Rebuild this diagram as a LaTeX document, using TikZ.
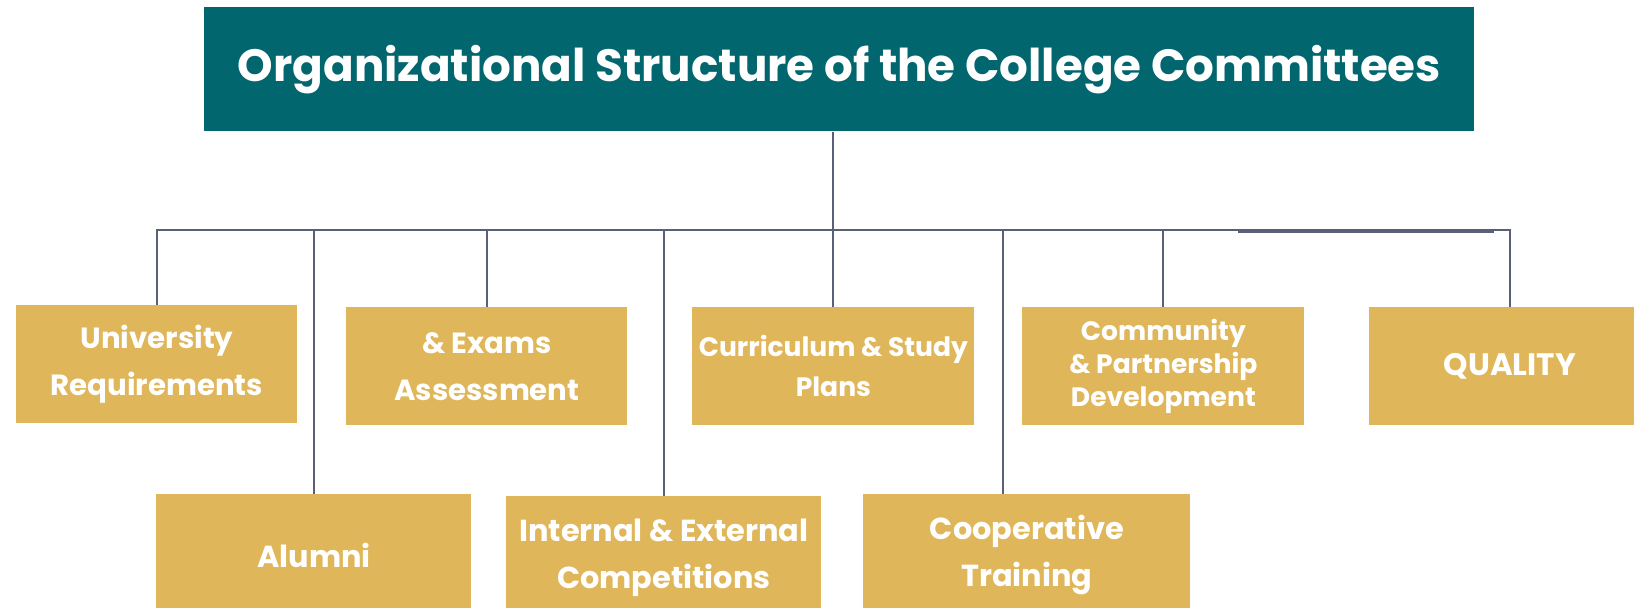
\documentclass[tikz,border=0pt]{standalone}
\usepackage{fontspec}
\setmainfont{Poppins}
\definecolor{teal}{HTML}{02666E}
\definecolor{gold}{HTML}{E0B65A}
\definecolor{linec}{HTML}{5B6079}
\tikzset{
  titlebox/.style={fill=teal, text=white, anchor=north west, inner sep=0pt, font=\bfseries\fontsize{22.6}{26}\selectfont, align=center},
  combox/.style={fill=gold, text=white, anchor=north west, inner sep=0pt, align=center, font=\bfseries\fontsize{14.6}{23.5}\selectfont},
  lowbox/.style={combox, font=\bfseries\fontsize{15.2}{23.5}\selectfont},
  conn/.style={draw=linec, line width=1pt}
}
\begin{document}
\begin{tikzpicture}[x=0.5pt,y=-0.5pt]
\useasboundingbox (0,0) rectangle (1634,608);
\node[titlebox, minimum width=635pt, minimum height=62pt] (title) at (204,7) {Organizational Structure of the College Committees};
% top row
\node[combox, minimum width=140.5pt, minimum height=59pt] (ur) at (16,305) {University\\Requirements};
\node[combox, minimum width=140.5pt, minimum height=59pt] (exams) at (346,307) {\& Exams\\Assessment};
\node[combox, minimum width=141pt, minimum height=59pt, font=\bfseries\fontsize{13.3}{20}\selectfont] (curr) at (692,307) {Curriculum \& Study\\Plans};
\node[combox, minimum width=141pt, minimum height=59pt, font=\bfseries\fontsize{13.3}{16.5}\selectfont] (comm) at (1022,307) {Community\\\& Partnership\\Development};
\node[combox, minimum width=140.5pt, minimum height=59pt, font=\bfseries\fontsize{15.5}{20}\selectfont] (qual) at (1369,307) {QUALITY};
% bottom row
\node[lowbox, minimum width=157.5pt, minimum height=61pt] (alum) at (156,494) {Alumni};
\node[lowbox, minimum width=157.5pt, minimum height=61pt] (comp) at (506,496) {Internal \& External\\Competitions};
\node[lowbox, minimum width=163.5pt, minimum height=61pt] (coop) at (863,494) {Cooperative\\Training};
% connectors
\coordinate (bar) at (curr.north |- 0,230);
\coordinate (coopx) at (1003,230);
\coordinate (dblA) at (1238,232);
\coordinate (dblB) at (1494,232);
\draw[conn] (bar |- title.south) -- (bar);
\draw[conn] (bar) -| (ur.north);
\draw[conn] (bar) -| (alum.north);
\draw[conn] (bar) -| (exams.north);
\draw[conn] (bar) -| (comp.north);
\draw[conn] (bar) -- (curr.north);
\draw[conn] (bar) -- (coopx) -- (coopx |- coop.north);
\draw[conn] (bar) -| (comm.north);
\draw[conn] (bar) -| (qual.north);
\draw[conn] (dblA) -- (dblB);
\end{tikzpicture}
\end{document}
